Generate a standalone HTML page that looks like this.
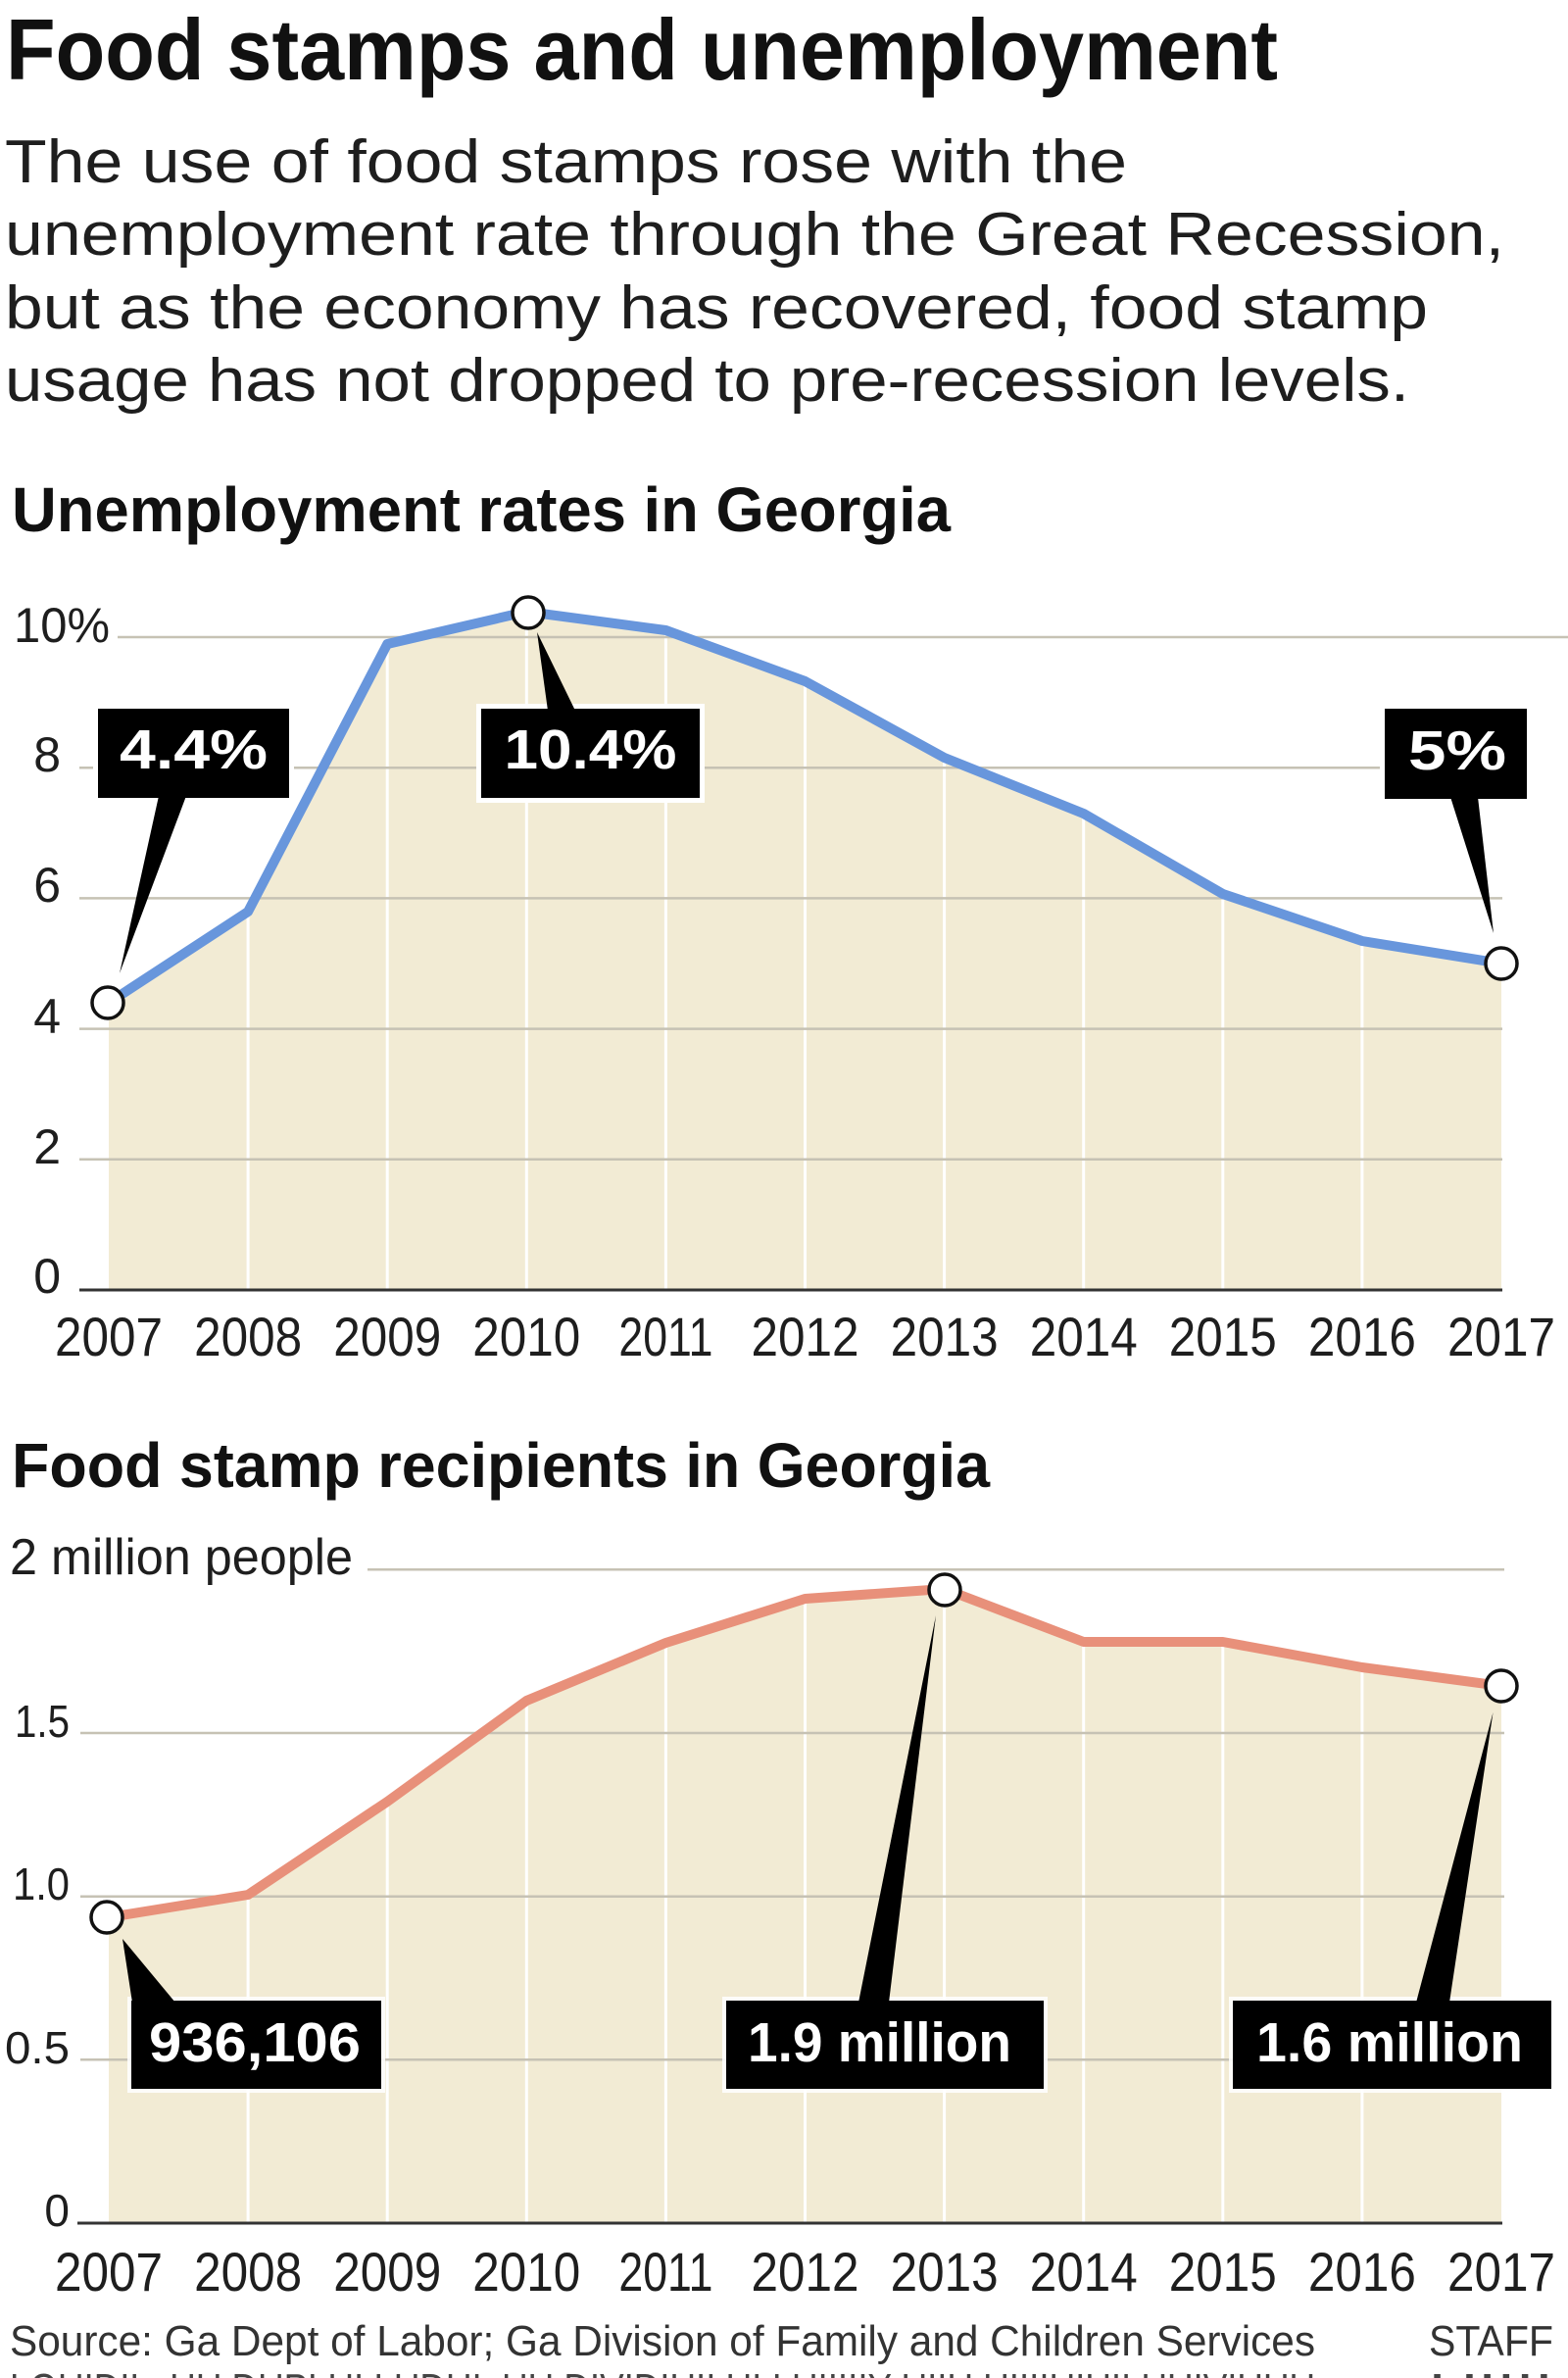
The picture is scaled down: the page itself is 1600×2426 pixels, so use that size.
<!DOCTYPE html>
<html>
<head>
<meta charset="utf-8">
<style>
  html, body { margin: 0; padding: 0; background: #ffffff; }
  svg { display: block; }
  text { font-family: "Liberation Sans", Arial, sans-serif; }
</style>
</head>
<body>
<svg width="1600" height="2426" viewBox="0 0 1600 2426" xmlns="http://www.w3.org/2000/svg">
  <defs>
    <clipPath id="c1">
      <polygon points="111,1023 253.1,930 395.2,657 537.3,624 679.4,643 821.5,695 963.6,773 1105.7,830 1247.8,912 1389.9,960 1532,983 1532,1316 111,1316"/>
    </clipPath>
    <clipPath id="c2">
      <polygon points="111,1956 253.1,1933 395.2,1838 537.3,1735 679.4,1676 821.5,1631 963.6,1621 1105.7,1675 1247.8,1675 1389.9,1701 1532,1720 1532,2268 111,2268"/>
    </clipPath>
  </defs>
  <rect x="0" y="0" width="1600" height="2426" fill="#ffffff"/>

  <!-- Titles -->
  <text x="6" y="81" font-size="88" font-weight="bold" fill="#111" textLength="1298" lengthAdjust="spacingAndGlyphs">Food stamps and unemployment</text>
  <g font-size="62" fill="#1e1e1e">
    <text x="5" y="186" textLength="1145" lengthAdjust="spacingAndGlyphs">The use of food stamps rose with the</text>
    <text x="5" y="260" textLength="1530" lengthAdjust="spacingAndGlyphs">unemployment rate through the Great Recession,</text>
    <text x="5" y="335" textLength="1452" lengthAdjust="spacingAndGlyphs">but as the economy has recovered, food stamp</text>
    <text x="5" y="409" textLength="1433" lengthAdjust="spacingAndGlyphs">usage has not dropped to pre-recession levels.</text>
  </g>
  <text x="12" y="542" font-size="64" font-weight="bold" fill="#111" textLength="958" lengthAdjust="spacingAndGlyphs">Unemployment rates in Georgia</text>

  <!-- ============ CHART 1 ============ -->
  <polygon points="111,1023 253.1,930 395.2,657 537.3,624 679.4,643 821.5,695 963.6,773 1105.7,830 1247.8,912 1389.9,960 1532,983 1532,1316 111,1316" fill="#f2ebd4"/>
  <g clip-path="url(#c1)" stroke="#ffffff" stroke-width="3">
    <line x1="253.1" y1="600" x2="253.1" y2="1316"/>
    <line x1="395.2" y1="600" x2="395.2" y2="1316"/>
    <line x1="537.3" y1="600" x2="537.3" y2="1316"/>
    <line x1="679.4" y1="600" x2="679.4" y2="1316"/>
    <line x1="821.5" y1="600" x2="821.5" y2="1316"/>
    <line x1="963.6" y1="600" x2="963.6" y2="1316"/>
    <line x1="1105.7" y1="600" x2="1105.7" y2="1316"/>
    <line x1="1247.8" y1="600" x2="1247.8" y2="1316"/>
    <line x1="1389.9" y1="600" x2="1389.9" y2="1316"/>
  </g>
  <g stroke="#c6c2b4" stroke-width="2.5">
    <line x1="120" y1="650" x2="1600" y2="650"/>
    <line x1="81" y1="783.2" x2="1533" y2="783.2"/>
    <line x1="81" y1="916.4" x2="1533" y2="916.4"/>
    <line x1="81" y1="1049.6" x2="1533" y2="1049.6"/>
    <line x1="81" y1="1182.8" x2="1533" y2="1182.8"/>
  </g>
  <line x1="81" y1="1316" x2="1533" y2="1316" stroke="#333" stroke-width="3"/>
  <polyline points="111,1023 253.1,930 395.2,657 537.3,624 679.4,643 821.5,695 963.6,773 1105.7,830 1247.8,912 1389.9,960 1532,983" fill="none" stroke="#6896dc" stroke-width="10" stroke-linejoin="round" stroke-linecap="round"/>

  <!-- y labels chart 1 -->
  <g font-size="50" fill="#1e1e1e">
    <text x="14" y="655" textLength="98" lengthAdjust="spacingAndGlyphs">10%</text>
    <text x="62" y="787" text-anchor="end">8</text>
    <text x="62" y="920" text-anchor="end">6</text>
    <text x="62" y="1054" text-anchor="end">4</text>
    <text x="62" y="1187" text-anchor="end">2</text>
    <text x="62" y="1319" text-anchor="end">0</text>
  </g>
  <!-- x labels chart 1 -->
  <g font-size="56" fill="#1e1e1e" text-anchor="middle">
    <text x="111" y="1383" textLength="110" lengthAdjust="spacingAndGlyphs">2007</text>
    <text x="253.1" y="1383" textLength="110" lengthAdjust="spacingAndGlyphs">2008</text>
    <text x="395.2" y="1383" textLength="110" lengthAdjust="spacingAndGlyphs">2009</text>
    <text x="537.3" y="1383" textLength="110" lengthAdjust="spacingAndGlyphs">2010</text>
    <text x="679.4" y="1383" textLength="96" lengthAdjust="spacingAndGlyphs">2011</text>
    <text x="821.5" y="1383" textLength="110" lengthAdjust="spacingAndGlyphs">2012</text>
    <text x="963.6" y="1383" textLength="110" lengthAdjust="spacingAndGlyphs">2013</text>
    <text x="1105.7" y="1383" textLength="110" lengthAdjust="spacingAndGlyphs">2014</text>
    <text x="1247.8" y="1383" textLength="110" lengthAdjust="spacingAndGlyphs">2015</text>
    <text x="1389.9" y="1383" textLength="110" lengthAdjust="spacingAndGlyphs">2016</text>
    <text x="1532" y="1383" textLength="110" lengthAdjust="spacingAndGlyphs">2017</text>
  </g>

  <!-- callouts chart 1 -->
  <g fill="#ffffff">
    <rect x="95" y="718" width="205" height="101"/>
    <rect x="486" y="718" width="233" height="101"/>
    <rect x="1408" y="718" width="155" height="102"/>
  </g>
  <g fill="#000000">
    <polygon points="162,812 190,812 122,993"/>
    <polygon points="559,725 587,725 548,645"/>
    <polygon points="1480,813 1508,813 1524,952"/>
    <rect x="100" y="723" width="195" height="91"/>
    <rect x="491" y="723" width="223" height="91"/>
    <rect x="1413" y="723" width="145" height="92"/>
  </g>
  <g font-size="57" font-weight="bold" fill="#ffffff" text-anchor="middle">
    <text x="197.5" y="784" textLength="151" lengthAdjust="spacingAndGlyphs">4.4%</text>
    <text x="602.5" y="784" textLength="176" lengthAdjust="spacingAndGlyphs">10.4%</text>
    <text x="1487" y="785" textLength="100" lengthAdjust="spacingAndGlyphs">5%</text>
  </g>
  <g fill="#ffffff" stroke="#111" stroke-width="3.5">
    <circle cx="110" cy="1023" r="16"/>
    <circle cx="539" cy="625" r="16"/>
    <circle cx="1532" cy="983" r="16"/>
  </g>

  <!-- ============ CHART 2 ============ -->
  <text x="12" y="1517" font-size="64" font-weight="bold" fill="#111" textLength="998" lengthAdjust="spacingAndGlyphs">Food stamp recipients in Georgia</text>
  <text x="10" y="1606" font-size="52" fill="#1e1e1e" textLength="350" lengthAdjust="spacingAndGlyphs">2 million people</text>

  <polygon points="111,1956 253.1,1933 395.2,1838 537.3,1735 679.4,1676 821.5,1631 963.6,1621 1105.7,1675 1247.8,1675 1389.9,1701 1532,1720 1532,2268 111,2268" fill="#f2ebd4"/>
  <g clip-path="url(#c2)" stroke="#ffffff" stroke-width="3">
    <line x1="253.1" y1="1590" x2="253.1" y2="2268"/>
    <line x1="395.2" y1="1590" x2="395.2" y2="2268"/>
    <line x1="537.3" y1="1590" x2="537.3" y2="2268"/>
    <line x1="679.4" y1="1590" x2="679.4" y2="2268"/>
    <line x1="821.5" y1="1590" x2="821.5" y2="2268"/>
    <line x1="963.6" y1="1590" x2="963.6" y2="2268"/>
    <line x1="1105.7" y1="1590" x2="1105.7" y2="2268"/>
    <line x1="1247.8" y1="1590" x2="1247.8" y2="2268"/>
    <line x1="1389.9" y1="1590" x2="1389.9" y2="2268"/>
  </g>
  <g stroke="#c6c2b4" stroke-width="2.5">
    <line x1="375" y1="1601.3" x2="1535" y2="1601.3"/>
    <line x1="82" y1="1768" x2="1535" y2="1768"/>
    <line x1="82" y1="1934.7" x2="1535" y2="1934.7"/>
    <line x1="82" y1="2101.3" x2="1535" y2="2101.3"/>
  </g>
  <line x1="79" y1="2268" x2="1533" y2="2268" stroke="#333" stroke-width="3"/>
  <polyline points="111,1956 253.1,1933 395.2,1838 537.3,1735 679.4,1676 821.5,1631 963.6,1621 1105.7,1675 1247.8,1675 1389.9,1701 1532,1720" fill="none" stroke="#e8907a" stroke-width="10" stroke-linejoin="round" stroke-linecap="round"/>

  <!-- y labels chart 2 -->
  <g font-size="46" fill="#1e1e1e" text-anchor="end">
    <text x="71" y="1772" textLength="56" lengthAdjust="spacingAndGlyphs">1.5</text>
    <text x="71" y="1938" textLength="58" lengthAdjust="spacingAndGlyphs">1.0</text>
    <text x="71" y="2105" textLength="66" lengthAdjust="spacingAndGlyphs">0.5</text>
    <text x="71" y="2271">0</text>
  </g>
  <!-- x labels chart 2 -->
  <g font-size="56" fill="#1e1e1e" text-anchor="middle">
    <text x="111" y="2337" textLength="110" lengthAdjust="spacingAndGlyphs">2007</text>
    <text x="253.1" y="2337" textLength="110" lengthAdjust="spacingAndGlyphs">2008</text>
    <text x="395.2" y="2337" textLength="110" lengthAdjust="spacingAndGlyphs">2009</text>
    <text x="537.3" y="2337" textLength="110" lengthAdjust="spacingAndGlyphs">2010</text>
    <text x="679.4" y="2337" textLength="96" lengthAdjust="spacingAndGlyphs">2011</text>
    <text x="821.5" y="2337" textLength="110" lengthAdjust="spacingAndGlyphs">2012</text>
    <text x="963.6" y="2337" textLength="110" lengthAdjust="spacingAndGlyphs">2013</text>
    <text x="1105.7" y="2337" textLength="110" lengthAdjust="spacingAndGlyphs">2014</text>
    <text x="1247.8" y="2337" textLength="110" lengthAdjust="spacingAndGlyphs">2015</text>
    <text x="1389.9" y="2337" textLength="110" lengthAdjust="spacingAndGlyphs">2016</text>
    <text x="1532" y="2337" textLength="110" lengthAdjust="spacingAndGlyphs">2017</text>
  </g>

  <!-- callouts chart 2 -->
  <g fill="#ffffff" opacity="0.85">
    <rect x="130" y="2037" width="263" height="98"/>
    <rect x="737" y="2037" width="332" height="98"/>
    <rect x="1254" y="2037" width="333" height="98"/>
  </g>
  <g fill="#000000">
    <polygon points="125,1978 135,2043 179,2043"/>
    <polygon points="955,1648 876,2043 907,2043"/>
    <polygon points="1523.5,1747 1445,2043 1479,2043"/>
    <rect x="134" y="2041" width="255" height="90"/>
    <rect x="741" y="2041" width="324" height="90"/>
    <rect x="1258" y="2041" width="325" height="90"/>
  </g>
  <g font-size="57" font-weight="bold" fill="#ffffff" text-anchor="middle">
    <text x="260" y="2103" textLength="216" lengthAdjust="spacingAndGlyphs">936,106</text>
    <text x="897.5" y="2103" textLength="269" lengthAdjust="spacingAndGlyphs">1.9 million</text>
    <text x="1418" y="2103" textLength="272" lengthAdjust="spacingAndGlyphs">1.6 million</text>
  </g>
  <g fill="#ffffff" stroke="#111" stroke-width="3.5">
    <circle cx="109" cy="1956" r="16"/>
    <circle cx="964" cy="1622" r="16"/>
    <circle cx="1532" cy="1720" r="16"/>
  </g>

  <!-- Source -->
  <text x="10" y="2403" font-size="44" fill="#333" textLength="1332" lengthAdjust="spacingAndGlyphs">Source: Ga Dept of Labor; Ga Division of Family and Children Services</text>
  <text x="1458" y="2403" font-size="44" fill="#333" textLength="127" lengthAdjust="spacingAndGlyphs">STAFF</text>
  <!-- partially visible row cut at bottom -->
  <text x="10" y="2452" font-size="44" fill="#444" textLength="1332" lengthAdjust="spacingAndGlyphs">LOUIDIL. UU DUPLUI LUDUI, UU DIVIDIUII UI I UIIIIIY UIIU UIIIIUIUII UUIVIUUU</text>
  <text x="1458" y="2452" font-size="44" fill="#444" textLength="127" lengthAdjust="spacingAndGlyphs">UIIII</text>
</svg>
</body>
</html>
